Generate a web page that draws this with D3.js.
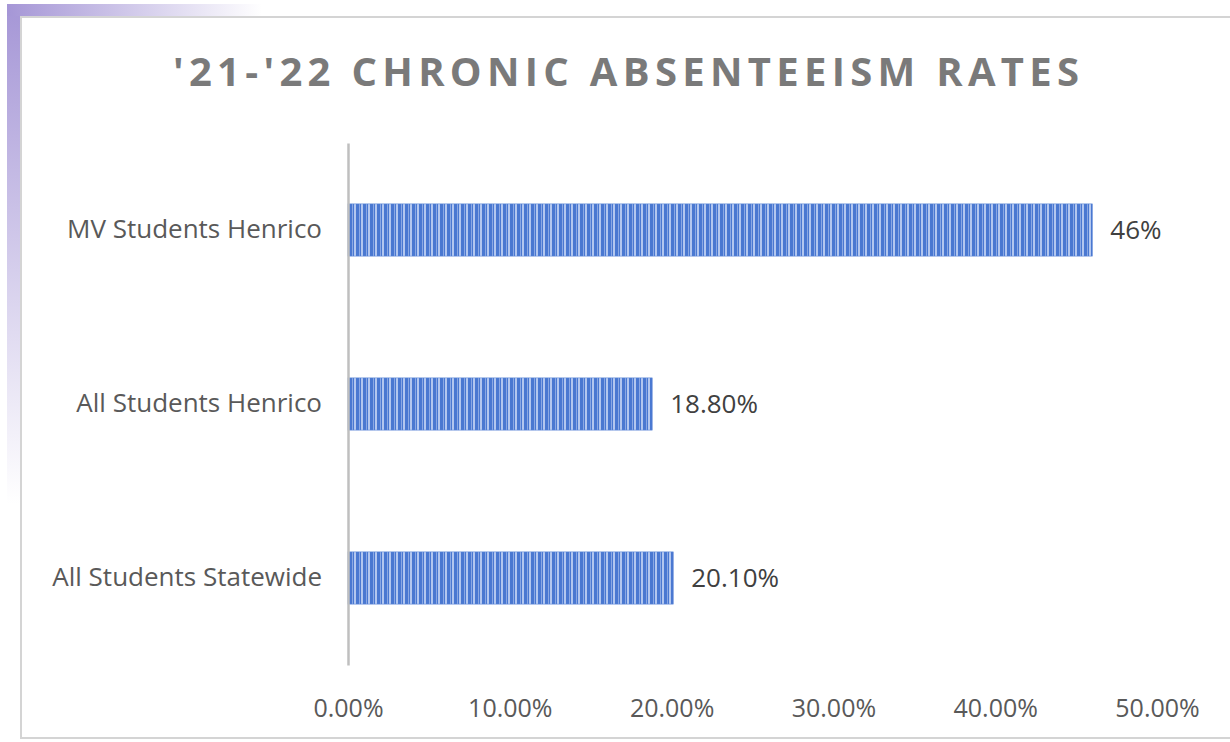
<!DOCTYPE html>
<meta charset="utf-8">
<script src="https://d3js.org/d3.v7.min.js"></script>
<style>
  body { margin: 0; background: #fff; }
  text { font-family: "Open Sans", sans-serif; }
</style>
<div id="chart"></div>
<script>
// chronic absenteeism rates 2021-22
var categories = ["MV Students Henrico", "All Students Henrico", "All Students Statewide"];
var rates = [46, 18.8, 20.1];
var rateLabels = ["46%", "18.80%", "20.10%"];
var ticks = [0, 10, 20, 30, 40, 50];
var tickLabels = ["0.00%", "10.00%", "20.00%", "30.00%", "40.00%", "50.00%"];

var W = 1230, H = 742;
var margin = {top: 143, left: 348, right: 70, bottom: 77};

var svg = d3.select("#chart").append("svg")
  .attr("width", W).attr("height", H);

var defs = svg.append("defs");

// purple fade strips (slide decoration)
var gv = defs.append("linearGradient").attr("id", "fadeV")
  .attr("x1", 0).attr("y1", 0).attr("x2", 0).attr("y2", 1);
gv.append("stop").attr("offset", 0).attr("stop-color", "#a596d6");
gv.append("stop").attr("offset", 1).attr("stop-color", "#ffffff");
var gh = defs.append("linearGradient").attr("id", "fadeH")
  .attr("x1", 0).attr("y1", 0).attr("x2", 1).attr("y2", 0);
gh.append("stop").attr("offset", 0).attr("stop-color", "#a596d6");
gh.append("stop").attr("offset", 1).attr("stop-color", "#ffffff");

svg.append("rect").attr("x", 7).attr("y", 4).attr("width", 13).attr("height", 500)
  .attr("fill", "url(#fadeV)");
svg.append("rect").attr("x", 7).attr("y", 4).attr("width", 255).attr("height", 12)
  .attr("fill", "url(#fadeH)");

// chart frame
svg.append("path")
  .attr("d", "M" + W + ",17 H21 V738 H" + W)
  .attr("fill", "#fff").attr("stroke", "#d4d4d4").attr("stroke-width", 2);

// striped bar pattern
var pat = defs.append("pattern").attr("id", "stripes")
  .attr("patternUnits", "userSpaceOnUse").attr("width", 7).attr("height", 10);
pat.append("rect").attr("width", 7).attr("height", 10).attr("fill", "#4a78d1");
pat.append("rect").attr("x", 2).attr("width", 1).attr("height", 10).attr("fill", "#8aa8e4");
pat.append("rect").attr("x", 4).attr("width", 2).attr("height", 10).attr("fill", "#b3c7ef");

var x = d3.scaleLinear()
  .domain([0, 50])
  .range([margin.left, W - margin.right - 3]);

var y = d3.scaleBand()
  .domain(categories)
  .range([margin.top, H - margin.bottom])
  .paddingInner(0.7)
  .paddingOuter(0.35);

// title
svg.append("text")
  .attr("x", 626).attr("y", 86)
  .attr("text-anchor", "middle")
  .attr("fill", "#7a7a7a")
  .style("font-size", "40px").style("font-weight", "bold")
  .attr("textLength", 906).attr("lengthAdjust", "spacing")
  .text("'21-'22 CHRONIC ABSENTEEISM RATES");

// bars
svg.append("g").selectAll("rect")
  .data(rates)
  .join("rect")
  .attr("x", x(0))
  .attr("y", (d, i) => y(categories[i]))
  .attr("width", d => x(d) - x(0))
  .attr("height", y.bandwidth())
  .attr("fill", "url(#stripes)")
  .attr("stroke", "#5b86d6").attr("stroke-width", 0.6);

// value labels
svg.append("g").selectAll("text")
  .data(rates)
  .join("text")
  .attr("x", d => x(d) + 18)
  .attr("y", (d, i) => y(categories[i]) + y.bandwidth() / 2)
  .attr("dy", "0.35em")
  .attr("fill", "#404040")
  .style("font-size", "26px")
  .text((d, i) => rateLabels[i]);

// category axis
var yAxis = svg.append("g")
  .attr("transform", "translate(" + x(0) + ",0)")
  .call(d3.axisLeft(y).tickSize(0).tickPadding(26));
yAxis.select(".domain").attr("stroke", "#bfbfbf").attr("stroke-width", 2.5);
yAxis.selectAll("text").attr("fill", "#595959").style("font-size", "26px")
  .style("font-family", "Open Sans, sans-serif");

// value axis (labels only)
var xAxis = svg.append("g")
  .attr("transform", "translate(0," + (H - margin.bottom) + ")")
  .call(d3.axisBottom(x).tickValues(ticks).tickSize(0).tickPadding(34)
    .tickFormat((d, i) => tickLabels[i]));
xAxis.select(".domain").remove();
xAxis.selectAll("text").attr("fill", "#595959").style("font-size", "25px")
  .style("font-family", "Open Sans, sans-serif");
</script>
